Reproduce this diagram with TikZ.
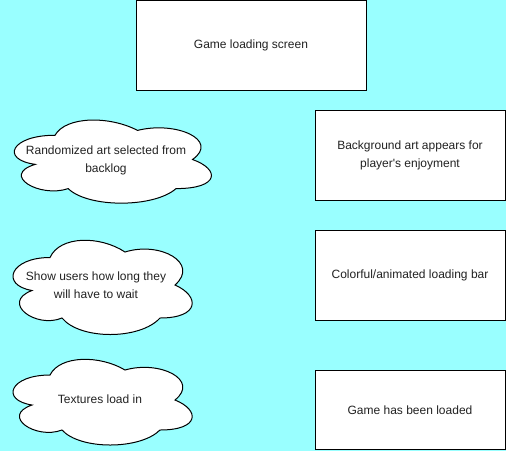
\documentclass[tikz,border=0pt]{standalone}
\usepackage{fontspec}
\setmainfont{Liberation Sans}

\tikzset{every picture/.style={line width=0.75pt}}
\tikzset{
	boxline/.style={draw={rgb, 255:red, 0; green, 0; blue, 0 }, fill={rgb, 255:red, 255; green, 255; blue, 255 }},
	cloudline/.style={draw={rgb, 255:red, 0; green, 0; blue, 0 }, fill={rgb, 255:red, 255; green, 255; blue, 255 }},
	txt/.style={font=\fontsize{9}{13.5}\selectfont, text={rgb, 255:red, 34; green, 34; blue, 34 }, align=center, inner sep=0pt}}

\begin{document}
\begin{tikzpicture}[x=0.75pt,y=0.75pt,yscale=-1,xscale=1]
	\useasboundingbox (0,0) rectangle (506,451);
	%Shape: Rectangle [id:bg]
	\fill [color={rgb, 255:red, 153; green, 255; blue, 255 }] (0,0) rectangle (506,451);

	%Shape: Rectangle [id:loadscreen]
	\draw [boxline] (136,0.5) rectangle (366,90) ;
	%Shape: Rectangle [id:bgart]
	\draw [boxline] (315.5,110.5) rectangle (505.5,200) ;
	%Shape: Rectangle [id:loadbar]
	\draw [boxline] (315.5,230.5) rectangle (505.5,320) ;
	%Shape: Rectangle [id:loaded]
	\draw [boxline] (315.5,370.5) rectangle (505.5,449.5) ;

	%Shape: Cloud [id:randart]
	\draw [cloudline] (55,135.25) .. controls (11,135.25) and (0,159.5) .. (35.2,164.35) .. controls (0,175.02) and (39.6,198.3) .. (68.2,188.6) .. controls (88,208) and (154,208) .. (176,188.6) .. controls (220,188.6) and (220,169.2) .. (192.5,159.5) .. controls (220,140.1) and (176,120.7) .. (137.5,130.4) .. controls (110,115.85) and (66,115.85) .. (55,135.25) -- cycle ;
	%Shape: Cloud [id:showwait]
	\draw [cloudline] (50,257.5) .. controls (10,257.5) and (0,285) .. (32,290.5) .. controls (0,302.6) and (36,329) .. (62,318) .. controls (80,340) and (140,340) .. (160,318) .. controls (200,318) and (200,296) .. (175,285) .. controls (200,263) and (160,241) .. (125,252) .. controls (100,235.5) and (60,235.5) .. (50,257.5) -- cycle ;
	%Shape: Cloud [id:textures]
	\draw [cloudline] (50,375) .. controls (10,375) and (0,400) .. (32,405) .. controls (0,416) and (36,440) .. (62,430) .. controls (80,450) and (140,450) .. (160,430) .. controls (200,430) and (200,410) .. (175,400) .. controls (200,380) and (160,360) .. (125,370) .. controls (100,355) and (60,355) .. (50,375) -- cycle ;

	% Text Node
	\node [txt] (loadscreen) at (251,45) {Game loading screen};
	% Text Node
	\node [txt] (bgart) at (410,155) {Background art appears for\\player\textquotesingle s enjoyment};
	% Text Node
	\node [txt] (loadbar) at (410,275) {Colorful/animated loading bar};
	% Text Node
	\node [txt] (loaded) at (410,410) {Game has been loaded};
	% Text Node
	\node [txt] (randart) at (106,160.5) {Randomized art selected from\\backlog};
	% Text Node
	\node [txt] (showwait) at (96,285.5) {Show users how long they\\will have to wait};
	% Text Node
	\node [txt] (textures) at (100,399) {Textures load in};

\end{tikzpicture}
\end{document}
